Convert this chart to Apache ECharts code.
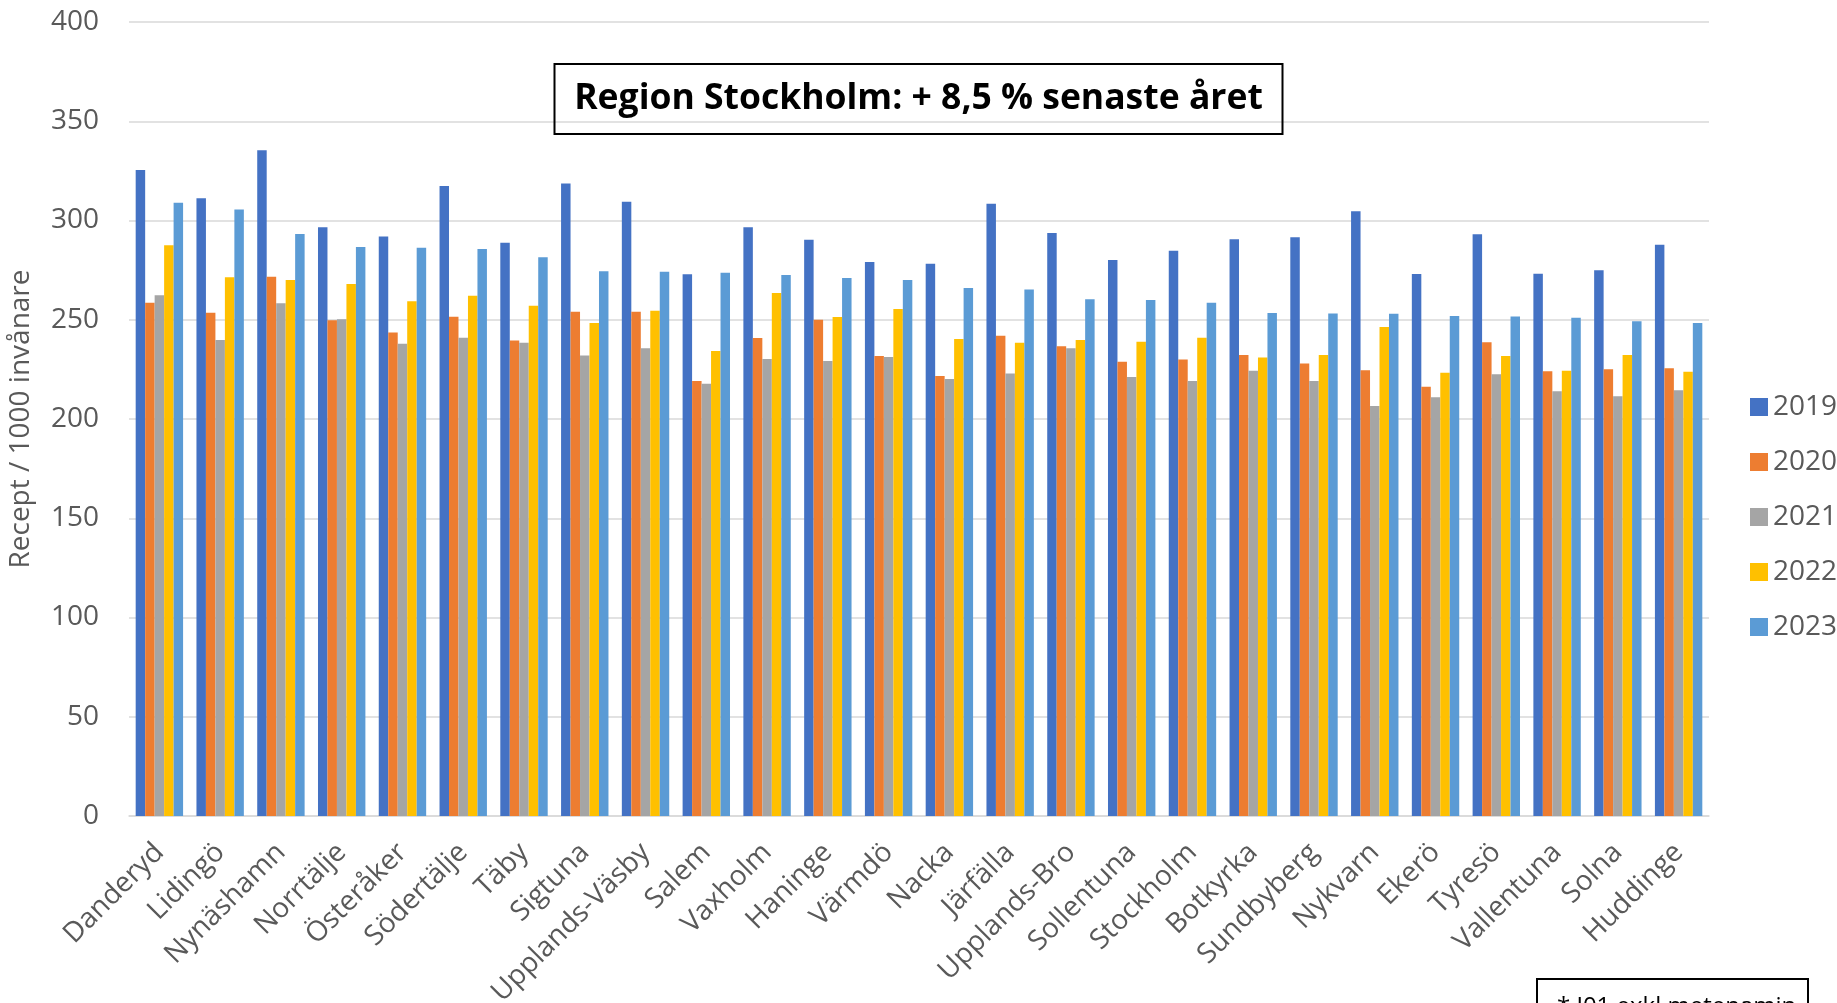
<!DOCTYPE html>
<html>
<head>
<meta charset="utf-8">
<script src="https://cdn.jsdelivr.net/npm/echarts@6/dist/echarts.min.js"></script>
<style>
  html, body { margin: 0; padding: 0; background: #fff; }
  #chart { width: 1837px; height: 1003px; }
</style>
</head>
<body>
<div id="chart"></div>
<script>
const municipalities = ['Danderyd', 'Lidingö', 'Nynäshamn', 'Norrtälje', 'Österåker', 'Södertälje', 'Täby', 'Sigtuna',
  'Upplands-Väsby', 'Salem', 'Vaxholm', 'Haninge', 'Värmdö', 'Nacka', 'Järfälla', 'Upplands-Bro', 'Sollentuna',
  'Stockholm', 'Botkyrka', 'Sundbyberg', 'Nykvarn', 'Ekerö', 'Tyresö', 'Vallentuna', 'Solna', 'Huddinge']

const years = ['2019', '2020', '2021', '2022', '2023']
const yearColors = ['#4472C4', '#ED7D31', '#A5A5A5', '#FFC000', '#5B9BD5']

const v2019 = [325.5, 311.2, 335.4, 296.6, 291.9, 317.4, 288.8, 318.6, 309.4, 272.9, 296.6, 290.3, 279.1, 278.2, 308.5, 293.7, 280.1, 284.8, 290.5, 291.5, 304.7, 273.0, 293.1, 273.2, 274.9, 287.8]
const v2020 = [258.6, 253.5, 271.7, 249.8, 243.6, 251.5, 239.6, 254.0, 254.0, 219.1, 240.8, 250.0, 231.8, 221.7, 241.9, 236.7, 228.8, 230.0, 232.3, 228.0, 224.6, 216.2, 238.7, 224.1, 225.1, 225.6]
const v2021 = [262.4, 239.8, 258.3, 250.2, 237.9, 240.9, 238.4, 232.0, 235.7, 217.7, 230.2, 229.2, 231.2, 220.2, 222.9, 235.6, 221.2, 219.2, 224.3, 219.1, 206.6, 211.0, 222.6, 214.0, 211.5, 214.5]
const v2022 = [287.5, 271.4, 270.0, 268.0, 259.3, 262.1, 257.1, 248.3, 254.5, 234.2, 263.5, 251.4, 255.4, 240.3, 238.4, 239.8, 238.9, 240.9, 231.0, 232.3, 246.3, 223.3, 231.8, 224.3, 232.2, 223.8]
const v2023 = [308.9, 305.5, 293.2, 286.7, 286.3, 285.6, 281.5, 274.4, 274.2, 273.7, 272.5, 271.0, 270.0, 266.0, 265.3, 260.3, 259.9, 258.6, 253.4, 253.2, 253.0, 251.9, 251.7, 251.0, 249.3, 248.3]

const yTicks = { min: 0, max: 400, interval: 50 }
const titleText = 'Region Stockholm: + 8,5 % senaste året'
const yAxisName = 'Recept / 1000 invånare'
const footnote = '* J01 exkl metenamin'

const font = '"Open Sans", "Noto Sans", sans-serif'
const textGrey = '#595959'

const chart = echarts.init(document.getElementById('chart'), null, { renderer: 'canvas' })

const seriesValues = [v2019, v2020, v2021, v2022, v2023]

chart.setOption({
  animation: false,
  backgroundColor: '#fff',
  textStyle: { fontFamily: font },
  title: {
    text: titleText,
    left: 'center',
    top: 64,
    padding: [14, 20, 14, 20],
    borderColor: '#000',
    borderWidth: 2,
    textStyle: { fontFamily: font, fontWeight: 'bold', fontSize: 35.5, color: '#000', lineHeight: 42 }
  },
  grid: { left: 129, right: 128, top: 22, bottom: 187, containLabel: false, outerBoundsMode: 'none' },
  legend: {
    orient: 'vertical',
    left: 1745,
    top: 387,
    itemWidth: 18,
    itemHeight: 18,
    itemGap: 25,
    icon: 'rect',
    textStyle: { fontFamily: font, fontSize: 28, color: textGrey, lineHeight: 30 },
    data: years
  },
  xAxis: {
    type: 'category',
    data: municipalities,
    axisLine: { lineStyle: { color: '#d9d9d9', width: 1.5 } },
    axisTick: { show: false },
    axisLabel: { interval: 0, rotate: 45, margin: 32, fontFamily: font, fontSize: 28, color: textGrey }
  },
  yAxis: {
    type: 'value',
    min: yTicks.min,
    max: yTicks.max,
    interval: yTicks.interval,
    name: yAxisName,
    nameLocation: 'middle',
    nameGap: 94,
    nameTextStyle: { fontFamily: font, fontSize: 28, color: textGrey },
    axisLine: { show: false },
    axisTick: { show: false },
    axisLabel: { fontFamily: font, fontSize: 28, color: textGrey, margin: 30 },
    splitLine: { lineStyle: { color: '#d9d9d9', width: 1.5 } }
  },
  series: years.map((y, i) => ({
    name: y,
    type: 'bar',
    data: seriesValues[i],
    barGap: '0%',
    barCategoryGap: '22%',
    itemStyle: { color: yearColors[i] }
  })),
  graphic: [
    {
      type: 'rect',
      shape: { x: 1537, y: 979, width: 271, height: 40 },
      style: { fill: '#fff', stroke: '#000', lineWidth: 2 },
      z: 10
    },
    {
      type: 'text',
      x: 1557,
      y: 995,
      style: { text: footnote, fontFamily: font, fontSize: 24, fill: '#000' },
      z: 11
    }
  ]
})
</script>
</body>
</html>
